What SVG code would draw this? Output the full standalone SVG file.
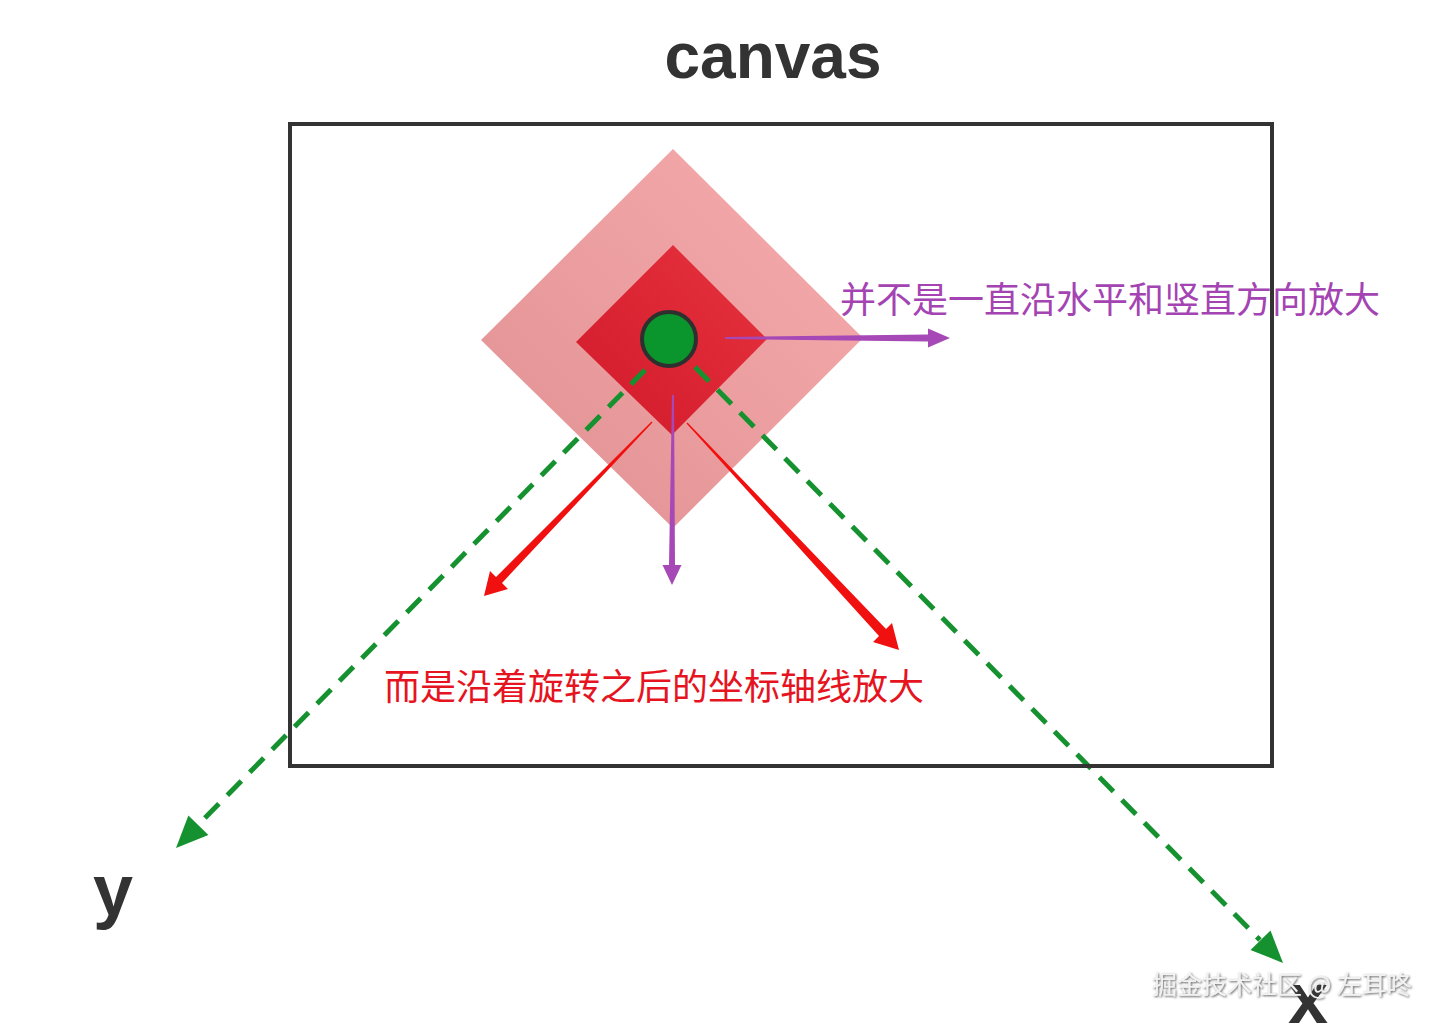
<svg xmlns="http://www.w3.org/2000/svg" width="1440" height="1026" viewBox="0 0 1440 1026">
<defs>
<style>
.title{font-family:"Liberation Sans",Arial,sans-serif;font-weight:bold;fill:#333}
.cjk{font-family:"Noto Sans CJK SC","Noto Sans",sans-serif;font-size:36px}
.purple{fill:#a443b2}
.red{fill:#e5141f}
.dash{stroke:#15922f;stroke-width:5;stroke-dasharray:20 12;fill:none}
.gh{fill:#15922f}
.ph{fill:#a648b5}
.rh{fill:#f01010}
</style>
<linearGradient id="gOuter" x1="0" y1="1" x2="1" y2="0">
<stop offset="0" stop-color="#df9092"/>
<stop offset="1" stop-color="#f8acad"/>
</linearGradient>
<linearGradient id="gInner" x1="0" y1="1" x2="1" y2="0">
<stop offset="0" stop-color="#d11a2a"/>
<stop offset="1" stop-color="#e7323f"/>
</linearGradient>
<filter id="sh" x="-10%" y="-30%" width="120%" height="160%">
<feDropShadow dx="1" dy="1" stdDeviation="0.8" flood-color="#444" flood-opacity="0.9"/>
</filter>
</defs>
<rect width="1440" height="1026" fill="#fff"/>

<text class="title" x="773" y="78" font-size="64" text-anchor="middle">canvas</text>

<g id="outer-square">
<polygon points="673,149 863,338 673,528 481,340" fill="url(#gOuter)"/>
</g>
<g id="inner-square">
<polygon points="673,245 767,339 672,435 576,342" fill="url(#gInner)"/>
</g>

<g id="connectors">
<line class="dash" x1="645" y1="370" x2="198" y2="825"/>
<polygon class="gh" points="176,848 208.4,835 188.4,815.4"/>
<line class="dash" x1="695" y1="367" x2="1260" y2="940"/>
<polygon class="gh" points="1283,963 1270.5,930.4 1250.5,950"/>
<path class="rh" d="M652.5,422.5 L651.5,421.5 L496,577 L490,571 L484,596 L508,589 L502,583 Z"/>
<path class="rh" d="M687.5,422.5 L686.5,423.5 L879,636 L873,642 L899,650 L892,623 L886,629 Z"/>
<path class="ph" d="M725,337 L928,334.5 L928,328.5 L950,338 L928,347.5 L928,341.5 L725,339 Z"/>
<path class="ph" d="M672,395 L674,395 L675,565 L681.5,565 L672,585 L662.5,565 L669,565 Z"/>
</g>

<g id="center-dot">
<circle cx="669" cy="339" r="27" fill="#0a962c" stroke="#2f2f2f" stroke-width="4"/>
</g>

<g id="label-purple">
<text class="cjk purple" x="840" y="313">并不是一直沿水平和竖直方向放大</text>
</g>
<g id="label-red">
<text class="cjk red" x="384" y="700">而是沿着旋转之后的坐标轴线放大</text>
</g>

<g id="canvas-frame">
<rect x="290" y="124" width="982" height="642" fill="none" stroke="#333" stroke-width="4"/>
</g>

<g id="axis-y"><text class="title" x="93" y="915" font-size="72">y</text></g>
<g id="axis-x"><text class="title" x="1288" y="1023" font-size="72">x</text></g>

<text x="1152" y="994" font-family="'Noto Sans CJK SC','Noto Sans',sans-serif" font-size="25" fill="#f2f2f2" filter="url(#sh)">掘金技术社区 @ 左耳咚</text>
</svg>
